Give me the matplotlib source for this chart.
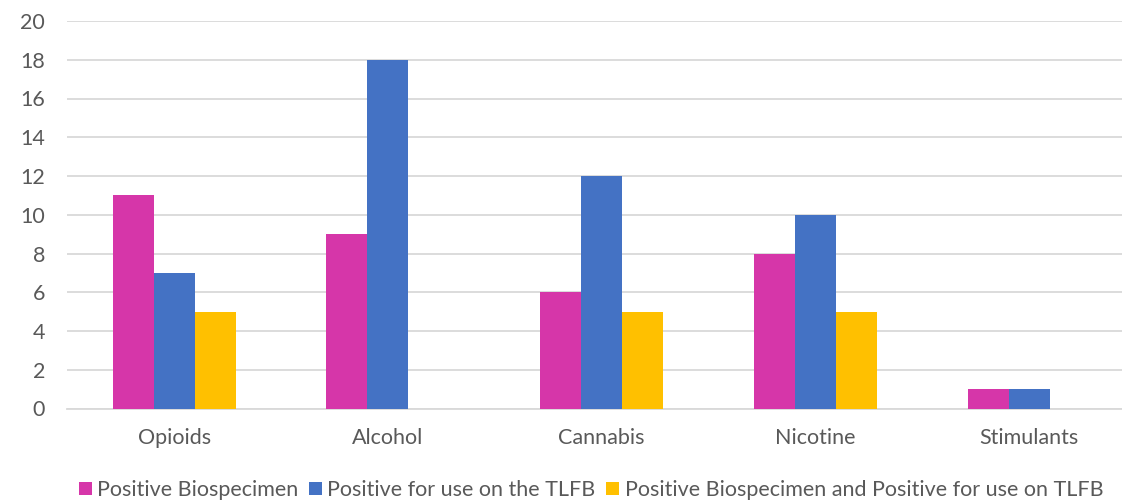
import matplotlib
matplotlib.use("Agg")
import matplotlib.pyplot as plt
from matplotlib.patches import Patch
import numpy as np

categories = ["Opioids", "Alcohol", "Cannabis", "Nicotine", "Stimulants"]
series_names = ["Positive Biospecimen", "Positive for use on the TLFB",
                "Positive Biospecimen and Positive for use on TLFB"]
pos_bio = [11, 9, 6, 8, 1]
pos_tlfb = [7, 18, 12, 10, 1]
pos_both = [5, 0, 5, 5, 0]
yticks = list(range(0, 21, 2))

colors = ["#D636A9", "#4472C4", "#FFC000"]
text_color = "#595959"
grid_color = "#D9D9D9"

plt.rcParams['font.family'] = ['Lato', 'DejaVu Sans']

W, H = 1122, 503
fig = plt.figure(figsize=(W / 100, H / 100), dpi=100)
left, right, bottom, top = 67.3, 1136.0, 408.5, 21.0
ax = fig.add_axes([left / W, (H - bottom) / H, (right - left) / W, (bottom - top) / H])

x = np.arange(len(categories))
bw = 0.192
for i, (vals, c) in enumerate(zip([pos_bio, pos_tlfb, pos_both], colors)):
    ax.bar(x + (i - 1) * bw, vals, width=bw, color=c, linewidth=0, zorder=3)

fs = 15.5
ax.set_xlim(-0.5, len(categories) - 0.5)
ax.set_ylim(0, 20)
ax.set_yticks(yticks)
ax.set_xticks(x)
ax.set_xticklabels(categories)
ax.tick_params(axis='both', length=0, labelsize=fs, colors=text_color)
ax.tick_params(axis='y', pad=16)
ax.tick_params(axis='x', pad=14)
ax.grid(axis='y', color=grid_color, linewidth=1.3, zorder=0)
for s in ["top", "right", "left"]:
    ax.spines[s].set_visible(False)
ax.spines["bottom"].set_color(grid_color)
ax.spines["bottom"].set_linewidth(1.3)

handles = [Patch(facecolor=c, edgecolor='none') for c in colors]
fig.legend(handles, series_names, loc='center', bbox_to_anchor=(591 / W, 13 / H),
           ncol=3, frameon=False, fontsize=fs, labelcolor=text_color,
           handlelength=0.6, handleheight=0.6, handletextpad=0.25, columnspacing=0.5,
           borderaxespad=0, borderpad=0)

fig.savefig("out.png", dpi=100)
